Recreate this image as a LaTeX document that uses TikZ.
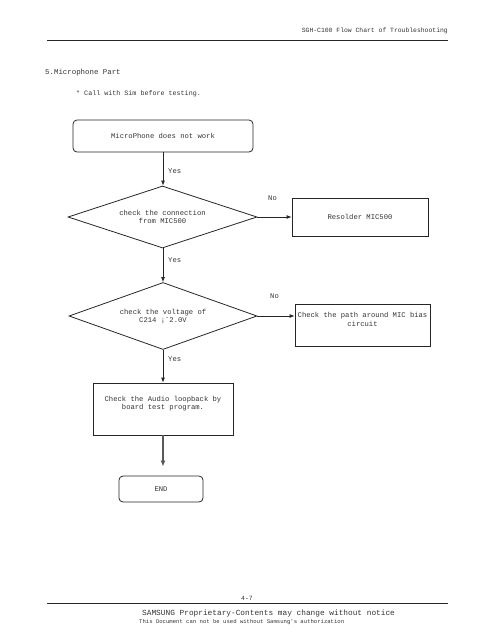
\documentclass[tikz,border=0pt]{standalone}
\usepackage{fontspec}
\setmonofont{Liberation Mono}
\usetikzlibrary{shapes.geometric,arrows.meta}
\tikzset{
  flowtext/.style={font=\ttfamily\fontsize{7.2}{8.2}\selectfont, text=black!80, align=center},
  procbox/.style={draw=black!85, line width=0.8pt, flowtext, inner sep=1pt},
  roundbox/.style={procbox, rounded corners=4pt},
  decision/.style={diamond, draw=black!85, line width=0.8pt, flowtext, inner sep=0pt, aspect=3},
  flowarrow/.style={draw=black!85, line width=0.8pt, -{Latex[length=5pt,width=4pt]}},
  thickarrow/.style={draw=black!65, line width=1.4pt, -{Latex[length=6pt,width=5pt]}},
  branchlabel/.style={flowtext, anchor=west, inner sep=0pt},
}
\begin{document}
\begin{tikzpicture}[x=1pt,y=-1pt]
\useasboundingbox (0,0) rectangle (495,640);
% header
\node[font=\ttfamily\fontsize{6.4}{7}\selectfont, text=black!80, anchor=east, inner sep=0pt] (hdr) at (448,31) {SGH-C100 Flow Chart of Troubleshooting};
\coordinate (hl) at (47,40);
\coordinate (hr) at (448,40);
\draw[line width=0.9pt, black!85] (hl) -- (hr);
\node[font=\ttfamily\fontsize{7.4}{8}\selectfont, text=black!80, anchor=west, inner sep=0pt] (title) at (45,73) {5.Microphone Part};
\node[font=\ttfamily\fontsize{6.7}{8}\selectfont, text=black!80, anchor=west, inner sep=0pt] (note) at (76,94) {* Call with Sim before testing.};
% flow
\node[roundbox, minimum width=180pt, minimum height=32pt] (start) at (163,136) {MicroPhone does not work};
\node[decision, minimum width=189pt, minimum height=62pt] (d1) at (162.5,217) {check the connection\\from MIC500};
\node[procbox, minimum width=136pt, minimum height=38pt] (resolder) at (360,217) {\raisebox{-4pt}{Resolder MIC500}};
\node[decision, minimum width=188pt, minimum height=67pt] (d2) at (163,316) {check the voltage of\\C214 ¡˘2.0V};
\node[procbox, minimum width=135pt, minimum height=42pt, inner sep=0pt] (bias) at (362.5,325) {Check the path around MIC bias\\circuit\\[3pt]};
\node[procbox, minimum width=140pt, minimum height=52pt] (audio) at (163,409) {Check the Audio loopback by\\board test program.\\[4pt]};
\node[roundbox, minimum width=84pt, minimum height=26pt] (end) at (161,489) {END};
% connectors
\draw[flowarrow] (start.south) -- (start.south |- d1.north);
\draw[flowarrow] (d1.south -| start.south) -- (start.south |- d2.north);
\draw[flowarrow] (d2.south -| start.south) -- (start.south |- audio.north);
\draw[thickarrow, shorten >=9pt] (audio.south -| start.south) -- (start.south |- end.north);
\draw[flowarrow] (d1.east) -- (resolder.west |- d1.east);
\draw[flowarrow] (d2.east) -- (bias.west |- d2.east);
\node[branchlabel] (y1) at (168,171) {Yes};
\node[branchlabel] (y2) at (168,260) {Yes};
\node[branchlabel] (y3) at (168,359) {Yes};
\node[branchlabel] (n1) at (268,198) {No};
\node[branchlabel] (n2) at (270,296) {No};
% footer
\node[font=\ttfamily\fontsize{6.4}{7}\selectfont, text=black!80, inner sep=0pt] (page) at (247,598) {4-7};
\coordinate (fl) at (47,603);
\coordinate (fr) at (448,603);
\draw[line width=0.9pt, black!85] (fl) -- (fr);
\node[font=\ttfamily\fontsize{7.8}{8}\selectfont, text=black!80, anchor=west, inner sep=0pt] (prop) at (142,613) {SAMSUNG Proprietary-Contents may change without notice};
\node[font=\ttfamily\fontsize{5.6}{6}\selectfont, text=black!80, anchor=west, inner sep=0pt] (auth) at (139,622) {This Document can not be used without Samsung's authorization};
\end{tikzpicture}
\end{document}
